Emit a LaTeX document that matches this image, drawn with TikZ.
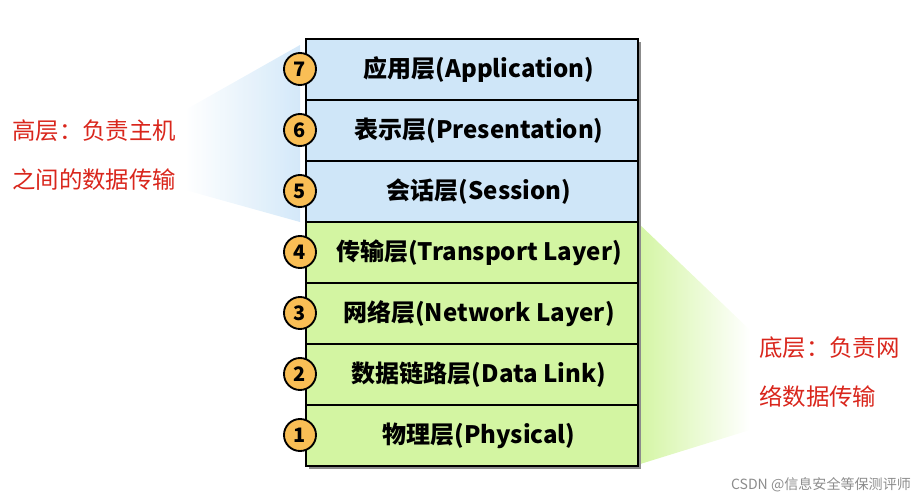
\documentclass[tikz,border=0pt]{standalone}
\usepackage{fontspec}
\setmainfont{Noto Sans CJK SC}
\usetikzlibrary{positioning,shadows}
\definecolor{upperblue}{HTML}{CFE6F8}
\definecolor{lowergreen}{HTML}{D3F5A2}
\definecolor{badgeorange}{HTML}{F9BE55}
\definecolor{notered}{HTML}{D9261C}
\tikzset{
  layerbox/.style={draw=black, line width=1.6pt, minimum width=332*0.03cm, minimum height=61*0.03cm, inner sep=0pt, font=\fontsize{20.5}{24}\selectfont\bfseries},
  badge/.style={circle, draw=black, line width=1.6pt, fill=badgeorange, minimum size=32*0.03cm, inner sep=0pt, font=\fontsize{17}{20}\selectfont\bfseries},
  notetext/.style={text=notered, align=left, font=\fontsize{20}{42}\selectfont}
}
\begin{document}
\begin{tikzpicture}[x=0.03cm, y=-0.03cm]
\useasboundingbox (0,0) rectangle (919,500);
% wedges
\shade[left color=white, right color=upperblue, opacity=0.9] (185,110) -- (300,45) -- (300,222) -- (185,190) -- cycle;
\shade[left color=lowergreen, right color=white] (637,222) -- (637,465) -- (750,430) -- (750,330) -- cycle;
% shadow
\fill[black!45] (309,42) rectangle (641,469);
% layers
\foreach \i/\name/\col in {7/应用层(Application)/upperblue, 6/表示层(Presentation)/upperblue, 5/会话层(Session)/upperblue, 4/传输层(Transport Layer)/lowergreen, 3/网络层(Network Layer)/lowergreen, 2/数据链路层(Data Link)/lowergreen, 1/物理层(Physical)/lowergreen}{
  \node[layerbox, fill=\col, anchor=north west] (layer\i) at (305,{38+(7-\i)*61}) {\hspace{12pt}\name};
  \node[badge] (badge\i) at (300,{69+(7-\i)*61}) {\i};
}
% notes
\node[notetext, anchor=west] (upper) at (8,155) {高层：负责主机\\之间的数据传输};
\node[notetext, anchor=west] (lower) at (755,372) {底层：负责网\\络数据传输};
\node[text=black!45, anchor=south east, font=\fontsize{12}{14}\selectfont] (mark) at (915,496) {CSDN @信息安全等保测评师};
\end{tikzpicture}
\end{document}
